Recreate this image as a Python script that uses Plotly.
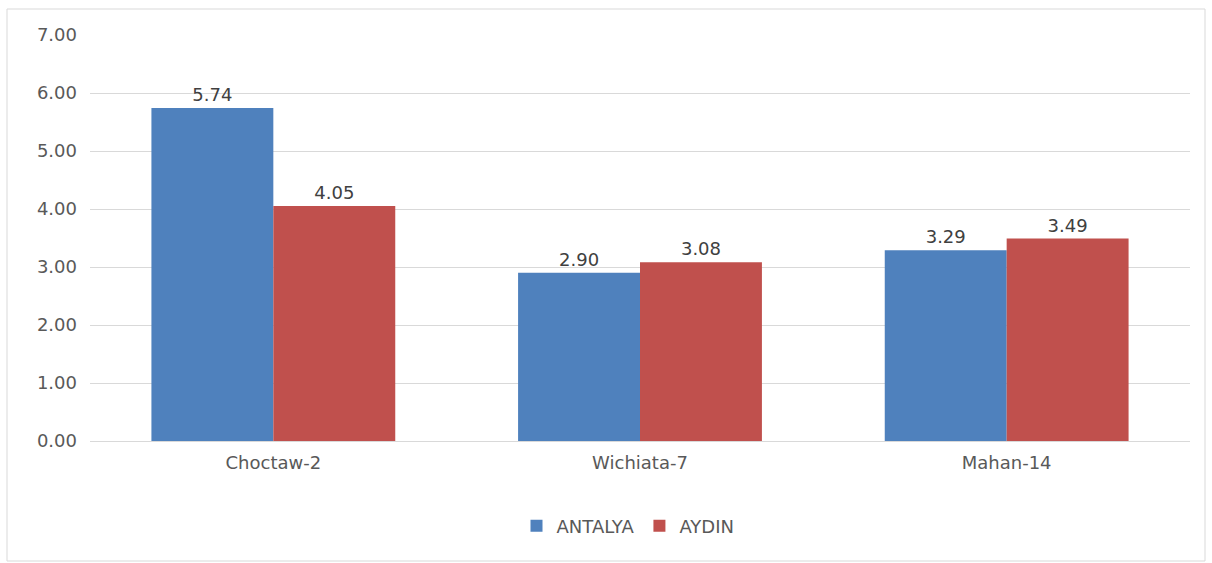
import plotly.graph_objects as go

categories = ["Choctaw-2", "Wichiata-7", "Mahan-14"]
antalya = [5.74, 2.90, 3.29]
aydin = [4.05, 3.08, 3.49]
y_ticks = [0, 1, 2, 3, 4, 5, 6, 7]
y_tick_labels = ["0.00", "1.00", "2.00", "3.00", "4.00", "5.00", "6.00", "7.00"]

W, H = 1212, 563
L, R, T, B = 90, 22, 35, 122
pw, ph = W - L - R, H - T - B

font = "DejaVu Sans, sans-serif"
fig = go.Figure()
fig.add_bar(x=categories, y=antalya, name="ANTALYA", marker_color="#4F81BD",
            marker_line_width=0,
            text=[f"{v:.2f}" for v in antalya], textposition="outside",
            textfont=dict(size=18, color="#404040"), cliponaxis=False)
fig.add_bar(x=categories, y=aydin, name="AYDIN", marker_color="#C0504D",
            marker_line_width=0,
            text=[f"{v:.2f}" for v in aydin], textposition="outside",
            textfont=dict(size=18, color="#404040"), cliponaxis=False)

fig.update_layout(
    width=W, height=H,
    margin=dict(l=L, r=R, t=T, b=B, autoexpand=False),
    barmode="group", bargap=0.335, bargroupgap=0,
    plot_bgcolor="white", paper_bgcolor="white",
    font=dict(family=font, size=18, color="#595959"),
    showlegend=True,
    legend=dict(orientation="h", x=(628 - L) / pw, xanchor="center", y=(T + ph - 526) / ph,
                yanchor="middle", font=dict(size=18, color="#595959"),
                itemwidth=30, tracegroupgap=0),
    xaxis=dict(showgrid=False, showline=False, ticks="", ticklabelstandoff=9,
               tickfont=dict(size=18, color="#595959")),
    yaxis=dict(range=[0, 7], tickvals=y_ticks, ticktext=y_tick_labels,
               showgrid=True, gridcolor="#D9D9D9", gridwidth=1,
               zeroline=True, zerolinecolor="#D9D9D9", zerolinewidth=1,
               showline=False, ticks="", ticklabelstandoff=12,
               tickfont=dict(size=18, color="#595959")),
    shapes=[dict(type="rect", xref="paper", yref="paper",
                 x0=(7 - L) / pw, x1=(1205 - L) / pw,
                 y0=(T + ph - 561) / ph, y1=(T + ph - 9) / ph,
                 line=dict(color="#D9D9D9", width=1), fillcolor="rgba(0,0,0,0)", layer="below")],
)
fig.write_html("out.html", config={"displayModeBar": False},
               post_script="document.body.style.margin='0';document.body.style.padding='0';")
